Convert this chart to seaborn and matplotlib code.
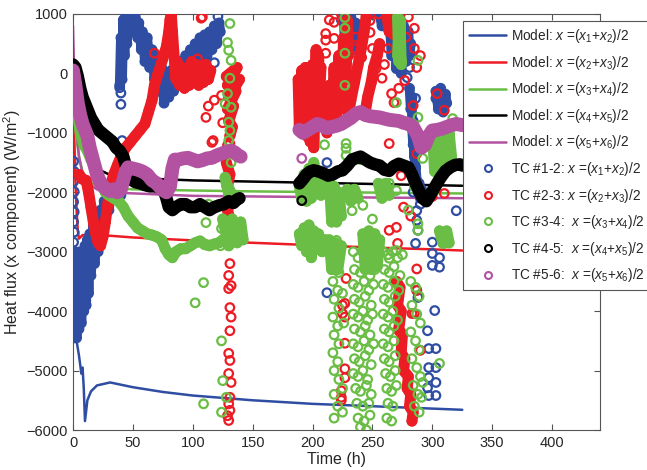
import matplotlib
matplotlib.use("Agg")
import matplotlib.pyplot as plt
from matplotlib.lines import Line2D
import pandas as pd
import seaborn as sns

# %% colours
c_blue = '#2f4ea3'
c_red = '#ec1c24'
c_green = '#6abd45'
c_black = '#000000'
c_mag = '#b252a1'

# %% model curves
blue_model_t = [0, 3, 5, 6, 7, 8, 9, 10, 12, 15, 20, 31, 50, 75, 100, 150, 200, 250, 300, 325]
blue_model_y = [-4300, -4500, -4750, -4900, -5050, -4950, -5300, -5850, -5500, -5350, -5250, -5200,
                -5280, -5360, -5420, -5500, -5560, -5600, -5640, -5660]
red_model_t = [0, 1, 2, 3, 4, 5, 8, 20, 30, 50, 100, 150, 200, 250, 300, 325]
red_model_y = [200, -1000, -1800, -2300, -2650, -2780, -2720, -2720, -2730, -2760, -2810, -2850,
               -2890, -2930, -2960, -2980]
green_model_t = [0, 1, 2, 3, 5, 8, 12, 18, 25, 50, 100, 150, 200, 250, 300, 325]
green_model_y = [150, -400, -800, -1100, -1400, -1650, -1800, -1880, -1920, -1950, -1970, -1985,
                 -1995, -2005, -2015, -2020]
black_model_t = [0, 2, 4, 6, 8, 10, 14, 20, 30, 50, 100, 200, 325]
black_model_y = [150, -300, -650, -900, -1100, -1250, -1450, -1600, -1700, -1760, -1800, -1840, -1890]
mag_model_t = [0, 1, 2, 3, 5, 8, 12, 20, 40, 100, 200, 325]
mag_model_y = [800, 0, -600, -1000, -1400, -1700, -1850, -1950, -2010, -2060, -2080, -2100]

# %% TC #1-2 (dense runs + single points)
tc12_bands = [
    [(1, -4400), (2, -3000), (3, -4450), (4, -3100), (5, -4300), (6, -3000), (7, -4200), (8, -3000),
     (9, -4000), (10, -2900), (11, -3900), (12, -2800), (13, -3700), (14, -2700), (15, -3400),
     (17, -2550), (18, -3200), (20, -2400), (21, -3000), (23, -2300), (24, -2800), (26, -2150),
     (27, -2500), (29, -2000), (30, -2300), (32, -1850), (33, -2100), (35, -1750), (36, -1900), (38, -1650)],
    [(39, -200), (40, 600), (41, -100), (42, 900), (43, 300), (44, 1000), (45, 500), (46, 950), (48, 700),
     (49, 1000), (51, 800), (52, 950), (54, 600), (55, 850), (57, 400), (58, 700), (60, 200), (62, 600),
     (64, 100), (66, 400), (68, -100), (70, 300), (72, -300), (74, 100), (76, -500), (78, 0), (80, -400),
     (82, 50), (84, -300), (86, 100), (88, -200), (90, 200), (92, -100), (94, 300), (96, 0), (98, 400),
     (100, 100), (102, 500), (104, 200), (106, 600), (108, 250), (110, 650), (112, 300), (114, 700),
     (116, 400), (118, 800), (120, 500), (122, 850), (123, 700)],
    [(226, 950), (227, 450), (229, 1000), (230, 350), (232, 950), (234, 400), (236, 850), (238, 550), (239, 800)],
    [(256, 980), (258, 800), (260, 1000), (262, 780), (264, 1000), (266, 300), (268, 950), (270, 100),
     (272, 900), (274, 0), (276, 800), (278, 200), (280, 700), (281, 300), (282, 500)],
    [(281, -250), (282, -600), (283, -400), (283, -900), (284, -1200), (284, -800), (285, -1400),
     (286, -1600), (285, -1300), (287, -1800), (288, -2000), (289, -1850), (290, -2100), (291, -1950)],
    [(303, -300), (305, -600), (307, -250), (309, -650), (311, -350), (312, -500)],
]
tc12_circles = [
    (0.5, -1480), (1, -1650), (0.5, -1820), (1, -1990), (0.5, -2160), (1, -2330), (0.5, -2500),
    (1, -2670), (0.5, -2840), (1, -3010), (0.5, -3180), (1, -3350), (0.5, -3520), (1, -3690),
    (0.5, -3860), (1, -4030), (0.5, -4200), (1, -4370), (1.5, -4450),
    (41, -1130), (37, -1750), (39, -1950), (40, -2050), (38, -2100), (39, -240), (40, -330), (40, -520),
    (121, 960), (118, 180), (101, 120), (212, -1500), (212, -3690),
    (224, 900), (229, 1000), (247, 980), (258, 950), (261, 840), (270, 80), (274, 20), (279, -70),
    (281, 100), (286, -420), (303, -420), (310, -500),
    (287, -2310), (287, -2470), (288, -2640), (286, -2860), (300, -2840), (300, -3030), (320, -2310),
    (300, -3230), (306, -3100), (302, -3990), (296, -4330), (297, -4630), (303, -4630), (297, -4950),
    (303, -4950), (297, -5120), (303, -5200), (297, -5420), (303, -5420), (287, -3650), (288, -3770),
    (306, -3260), (296, -5290), (284, -2000), (290, -2200),
]

# %% TC #2-3
tc23_bands = [
    [(5, -1700), (8, -1780), (11, -1800), (13, -2000), (15, -2250), (17, -2500), (19, -2700), (21, -2850),
     (23, -2900), (25, -2750), (27, -2500), (29, -2200), (31, -1900), (34, -1700), (37, -1550),
     (40, -1400), (44, -1250), (48, -1150), (52, -1050), (56, -950), (60, -850), (63, -650), (66, -450),
     (68, -200), (71, 0), (75, 250), (78, 450), (80, 700), (81, 900), (82, 1000)],
    [(82, 1000), (83, 700), (84, 400), (85, 150), (86, -100), (87, 200), (89, -200), (91, 100),
     (93, -250), (95, 50), (97, -200), (99, 200), (101, -150), (103, 150), (105, -200), (107, 100),
     (109, -150), (111, 150), (113, -100), (115, 50)],
    [(128, -50), (137, 100), (129, -200), (139, -100), (130, -400), (136, -300), (129, -600),
     (134, -550), (130, -800), (133, -900), (131, -1050)],
    [(128, -1500), (131, -1700), (129, -1900), (132, -2100), (129, -2300), (131, -2450)],
    [(188, -100), (189, -900), (191, 50), (192, -1000), (194, 100), (195, -1050), (197, 0), (198, -1150),
     (200, 150), (201, -1250), (203, 400), (204, -900), (205, 300), (206, -300), (207, 100)],
    [(210, -300), (212, -1000), (214, -200), (216, -900), (218, 100), (220, -700), (222, 300),
     (224, -500), (226, 600), (228, -100), (229, 900), (230, 300)],
    [(229, -800), (232, -450), (235, -150), (238, 150), (241, 450), (243, 700), (245, 1000)],
    [(244, -650), (246, -400), (249, -150), (251, 100), (254, 300), (256, 500)],
    [(262, 1000), (264, 700), (266, 950), (268, 650), (270, 900)],
    [(270, -3500), (273, -3600), (271, -3900), (274, -4000), (272, -4300), (275, -4400), (274, -4700),
     (277, -4800), (276, -5000), (280, -5100), (279, -5300), (282, -5400), (281, -5600), (284, -5700),
     (283, -5850)],
]
tc23_circles = [
    (68, 340), (104, 245), (107, 930), (108, 950), (111, -740), (118, -450), (117, -1130), (124, -370),
    (125, -830), (131, -1180), (113, -550), (116, -1160), (129, -1210),
    (131, -3200), (130, -3400), (132, -3570), (130, -3620), (131, -3940), (132, -4100), (131, -4330),
    (130, -4710), (131, -4830), (130, -5050), (132, -5200), (131, -5450), (130, -5560), (131, -5670),
    (129, -5760), (130, -5840), (132, -2700),
    (211, -450), (222, -620), (221, -790), (218, 860), (218, 590), (236, 610), (236, 420), (241, 270),
    (248, 690), (248, 890), (250, 420), (253, 80), (258, -80), (263, 420), (266, 810), (267, 1000),
    (278, 610), (285, 760), (285, 420), (287, 100), (277, -120), (272, -250), (266, -340), (268, -490),
    (284, -540), (304, -340), (310, -620), (227, -420), (225, -290), (211, 670), (211, 560), (211, 340),
    (195, 20), (214, 900), (224, 1000), (255, 1000), (280, 950), (290, 300), (260, 150),
    (264, -1180), (274, -1720), (287, -1350), (264, -2640), (270, -2590), (271, -2860), (310, -2020),
    (282, -2400), (276, -2250), (300, -2070),
    (227, -3870), (227, -4100), (227, -4540), (227, -4970), (227, -5120), (224, -5340), (224, -5450),
    (224, -5500), (225, -3900), (225, -4040), (228, -3450), (287, -3290), (287, -3650), (285, -4040),
    (290, -4660), (272, -4330), (283, -4040),
]

# %% TC #3-4
tc34_bands = [
    [(0, 150), (2, -300), (4, -700), (6, -1000), (9, -1200), (12, -1300), (15, -1450), (18, -1550),
     (21, -1700), (24, -1850), (27, -2000), (30, -2050), (34, -2100), (38, -2150), (42, -2250),
     (46, -2400), (50, -2500), (54, -2600), (58, -2650), (62, -2700), (66, -2720), (70, -2750),
     (74, -2800), (77, -2950), (80, -3050), (83, -3100), (86, -3000), (90, -2950), (94, -2950),
     (98, -2900), (102, -2850), (106, -2820), (110, -2880), (114, -2900), (118, -2870), (122, -2850),
     (125, -2800)],
    [(127, -1750), (131, -2100), (128, -1850), (133, -2050), (129, -1950)],
    [(125, -2450), (130, -2900), (133, -2450), (137, -2850), (140, -2500), (142, -2800)],
    [(271, 950), (272, 200), (273, 900), (274, 150), (272, 600), (271, 300)],
    [(189, -1900), (191, -2100), (193, -1700), (195, -2150), (197, -1600), (199, -2100), (201, -1500),
     (203, -2000), (205, -1800), (207, -2050), (209, -1900), (212, -2000)],
    [(189, -2700), (191, -2900), (193, -2600), (195, -3000), (197, -2550), (199, -3100), (201, -2650),
     (203, -2950), (205, -2700), (208, -3000), (211, -2800), (214, -2900)],
    [(214, -1800), (216, -2500), (218, -1900), (220, -2500), (222, -2000), (224, -2400)],
    [(214, -2800), (216, -3300), (219, -2850), (221, -3300), (224, -2900)],
    [(242, -2700), (244, -3300), (247, -2650), (249, -3300), (252, -2700), (254, -3250), (256, -2800)],
    [(300, -1000), (302, -1650), (305, -950), (307, -1700), (310, -950), (312, -1600), (314, -1000),
     (316, -1400)],
    [(306, -2650), (309, -2860), (312, -2650), (314, -2850)],
    [(229, -1950), (232, -2150), (235, -1950), (238, -2100)],
    [(255, -1850), (258, -2100), (261, -1850), (264, -2050)],
]
tc34_circles = [
    (131, 840), (129, 520), (130, 390), (132, 220), (131, -80), (129, -340), (127, -510), (132, -570),
    (130, -820), (131, -960), (130, -1130), (131, -1300), (132, -1500), (111, -2510), (124, -2610),
    (123, -2900), (109, -3520), (102, -3860), (124, -4500), (125, -5170), (128, -5450), (109, -5560),
    (124, -5700), (120, -2250), (113, -2200),
    (227, 940), (227, 760), (227, 340), (227, -200), (270, -490), (288, 220), (288, -740), (317, -760),
    (228, -1180), (228, -1260), (264, -1850), (270, -1970), (236, -2000), (242, -2220), (233, -2310),
    (220, -2810), (222, -2980), (288, -2530), (288, -2640), (270, -2980), (264, -3110), (292, -1430),
    (228, -1380), (210, -1200), (240, -1450), (250, -2450), (280, -2300), (285, -1900),
    (218, -3260), (222, -3350), (217, -3500), (221, -3650), (225, -3700), (218, -3800), (222, -3950),
    (217, -4100), (221, -4250), (218, -4400), (222, -4550), (217, -4700), (221, -4850), (218, -5000),
    (222, -5150), (225, -5300), (218, -5400), (221, -5600), (225, -5700), (218, -5800), (226, -4200),
    (234, -3000), (238, -3100), (242, -3000), (246, -3150), (250, -3050),
    (235, -3300), (240, -3350), (244, -3250), (248, -3400), (252, -3300),
    (234, -3550), (238, -3600), (243, -3500), (247, -3650), (251, -3550),
    (235, -3800), (239, -3850), (244, -3750), (249, -3900),
    (234, -4050), (238, -4100), (242, -4000), (246, -4150), (250, -4050),
    (235, -4300), (240, -4350), (244, -4250), (248, -4400),
    (234, -4550), (238, -4600), (243, -4500), (247, -4650), (251, -4550),
    (235, -4800), (239, -4850), (244, -4750), (249, -4900),
    (234, -5050), (238, -5100), (242, -5000), (246, -5150),
    (236, -5300), (240, -5350), (245, -5250), (249, -5400),
    (237, -5550), (242, -5600), (247, -5550),
    (238, -5800), (243, -5850), (248, -5750), (240, -5950), (245, -6000),
    (259, -3000), (263, -3050), (267, -3000), (271, -3100), (275, -3050),
    (260, -3300), (264, -3350), (268, -3250), (273, -3400),
    (259, -3550), (263, -3600), (268, -3500), (272, -3650),
    (260, -3800), (264, -3850), (269, -3750),
    (259, -4050), (263, -4100), (267, -4000), (271, -4150),
    (260, -4300), (264, -4350), (268, -4250),
    (259, -4550), (263, -4600), (268, -4500),
    (260, -4800), (264, -4850), (269, -4750),
    (261, -5050), (265, -5100), (269, -5000),
    (262, -5300), (266, -5350), (270, -5250),
    (263, -5550), (267, -5600), (262, -5800), (266, -5850),
    (282, -3500), (286, -3600), (289, -3750), (283, -3900), (287, -4050), (290, -4200), (282, -4350),
    (286, -4500), (289, -4650), (283, -4800), (287, -4950), (290, -5100), (284, -5250), (288, -5400),
    (291, -5450), (285, -5600), (289, -5700), (292, -5200), (306, -4880),
]

# %% TC #4-5
tc45_bands = [
    [(0, 150), (2, 100), (4, -50), (6, -250), (8, -400), (10, -500), (12, -600), (15, -750), (18, -850),
     (21, -950), (24, -1000), (27, -1050), (30, -1100), (33, -1150), (36, -1250), (39, -1300),
     (42, -1400), (44, -1550), (46, -1700), (48, -1780), (52, -1830), (56, -1850), (60, -1880),
     (64, -1900), (68, -1900), (72, -1920), (76, -1980), (78, -2100), (80, -2250), (83, -2300),
     (86, -2250), (90, -2200), (94, -2200), (98, -2250), (102, -2250), (106, -2200), (110, -2250),
     (114, -2300), (118, -2250), (122, -2220), (126, -2200), (130, -2150), (134, -2180), (137, -2120),
     (139, -2100)],
    [(189, -1850), (192, -1780), (195, -1700), (198, -1650), (201, -1630), (205, -1650), (209, -1680),
     (213, -1720), (217, -1700), (221, -1650), (225, -1630), (229, -1550), (233, -1450), (237, -1420),
     (240, -1400), (244, -1450), (248, -1500), (252, -1530), (256, -1550), (260, -1620), (264, -1640),
     (268, -1560), (272, -1520), (276, -1550), (280, -1580), (283, -1700), (286, -1850), (289, -1980),
     (292, -2100), (295, -2150), (298, -2050), (301, -1950), (304, -1850), (307, -1750), (311, -1640),
     (315, -1580), (319, -1540), (323, -1530), (325, -1550)],
]
tc45_circles = [(191, -2140)]

# %% TC #5-6
tc56_bands = [
    [(0, 50), (2, -200), (4, -500), (6, -700), (8, -850), (10, -950), (12, -1050), (14, -1250),
     (16, -1400), (18, -1550), (20, -1700), (22, -1800), (25, -1900), (28, -1950), (31, -1980),
     (34, -1950), (37, -2000), (40, -1950), (42, -1800), (44, -1650), (46, -1580), (50, -1600),
     (54, -1620), (58, -1650), (62, -1700), (66, -1800), (70, -1850), (74, -1950), (78, -2000),
     (81, -1900), (83, -1600), (85, -1450), (88, -1450), (92, -1430), (96, -1420), (100, -1450),
     (104, -1480), (108, -1460), (112, -1430), (116, -1420), (120, -1380), (124, -1350), (128, -1320),
     (132, -1300), (135, -1330), (138, -1380), (140, -1400)],
    [(189, -950), (192, -1000), (196, -950), (200, -900), (204, -850), (208, -880), (212, -920),
     (216, -900), (220, -880), (224, -850), (228, -800), (232, -750), (236, -680), (240, -650),
     (244, -700), (248, -720), (252, -730), (256, -740), (260, -760), (264, -780), (268, -790),
     (272, -800), (276, -830), (280, -850), (284, -900), (288, -1050), (291, -1250), (294, -1200),
     (297, -1050), (300, -960), (304, -950), (308, -930), (312, -900), (316, -870), (320, -850),
     (325, -870)],
]
tc56_circles = [(191, -1430)]

legend_labels = [
    'Model: $x$ =($x_\\mathit{1}$+$x_\\mathit{2}$)/2',
    'Model: $x$ =($x_\\mathit{2}$+$x_\\mathit{3}$)/2',
    'Model: $x$ =($x_\\mathit{3}$+$x_\\mathit{4}$)/2',
    'Model: $x$ =($x_\\mathit{4}$+$x_\\mathit{5}$)/2',
    'Model: $x$ =($x_\\mathit{5}$+$x_\\mathit{6}$)/2',
    'TC #1-2: $x$ =($x_\\mathit{1}$+$x_\\mathit{2}$)/2',
    'TC #2-3: $x$ =($x_\\mathit{2}$+$x_\\mathit{3}$)/2',
    'TC #3-4:  $x$ =($x_\\mathit{3}$+$x_\\mathit{4}$)/2',
    'TC #4-5:  $x$ =($x_\\mathit{4}$+$x_\\mathit{5}$)/2',
    'TC #5-6:  $x$ =($x_\\mathit{5}$+$x_\\mathit{6}$)/2',
]

# %% style
sns.set_theme(style="ticks")
plt.rcParams['font.family'] = ['Liberation Sans', 'DejaVu Sans']
plt.rcParams['mathtext.fontset'] = 'custom'
plt.rcParams['mathtext.rm'] = 'Liberation Sans'
plt.rcParams['mathtext.it'] = 'Liberation Sans:italic'

fig = plt.figure(figsize=(6.47, 4.70), dpi=100)
ax = fig.add_axes([73 / 647, 1 - 430 / 470, 527 / 647, 416 / 470])

models = [
    (blue_model_t, blue_model_y, c_blue),
    (red_model_t, red_model_y, c_red),
    (green_model_t, green_model_y, c_green),
    (black_model_t, black_model_y, c_black),
    (mag_model_t, mag_model_y, c_mag),
]
for t, y, c in models:
    sns.lineplot(x=t, y=y, color=c, lw=1.8, sort=False, estimator=None, ax=ax, zorder=2)

tcs = [
    (tc12_bands, tc12_circles, c_blue, 7),
    (tc23_bands, tc23_circles, c_red, 8),
    (tc34_bands, tc34_circles, c_green, 8),
    (tc45_bands, tc45_circles, c_black, 9),
    (tc56_bands, tc56_circles, c_mag, 10),
]
z = 3
for bands, circles, c, lw in tcs:
    for seg in bands:
        df = pd.DataFrame(seg, columns=['t', 'q'])
        sns.lineplot(data=df, x='t', y='q', color=c, lw=lw, sort=False, estimator=None, ax=ax,
                     zorder=z, solid_capstyle='round', solid_joinstyle='round')
        sns.scatterplot(data=df, x='t', y='q', marker='o', s=38, facecolor='none', edgecolor=c,
                        linewidth=1.6, ax=ax, zorder=z)
    df = pd.DataFrame(circles, columns=['t', 'q'])
    sns.scatterplot(data=df, x='t', y='q', marker='o', s=38, facecolor='none', edgecolor=c,
                    linewidth=1.6, ax=ax, zorder=z + 0.5)
    z += 1

ax.set_xlim(0, 440)
ax.set_ylim(-6000, 1000)
ax.set_xticks(range(0, 450, 50))
ax.set_yticks(range(-6000, 1001, 1000))
ax.tick_params(direction='in', length=4, width=0.8, top=True, right=True, labelsize=10.5,
               color='#555555', pad=4)
for sp in ax.spines.values():
    sp.set_visible(True)
    sp.set_color('#555555')
    sp.set_linewidth(0.8)
ax.set_xlabel('Time (h)', fontsize=11.5, labelpad=2)
ax.set_ylabel('Heat flux (x component) (W/m$^2$)', fontsize=11.5, labelpad=2)

colors = [c_blue, c_red, c_green, c_black, c_mag]
handles = [Line2D([0], [0], color=c, lw=1.8) for c in colors]
handles += [Line2D([0], [0], ls='none', marker='o', ms=5, mfc='none', mec=c, mew=1.5) for c in colors]
leg = ax.legend(handles, legend_labels, loc='upper left', bbox_to_anchor=(463 / 647, 1 - 21 / 470),
                bbox_transform=fig.transFigure, fontsize=9.8, frameon=True, fancybox=False,
                edgecolor='#555555', framealpha=1, handlelength=2.7, handletextpad=0.4,
                labelspacing=0.63, borderpad=0.45, borderaxespad=0)
leg.get_frame().set_linewidth(0.8)
leg.set_zorder(20)

fig.savefig('out.png', dpi=100)
